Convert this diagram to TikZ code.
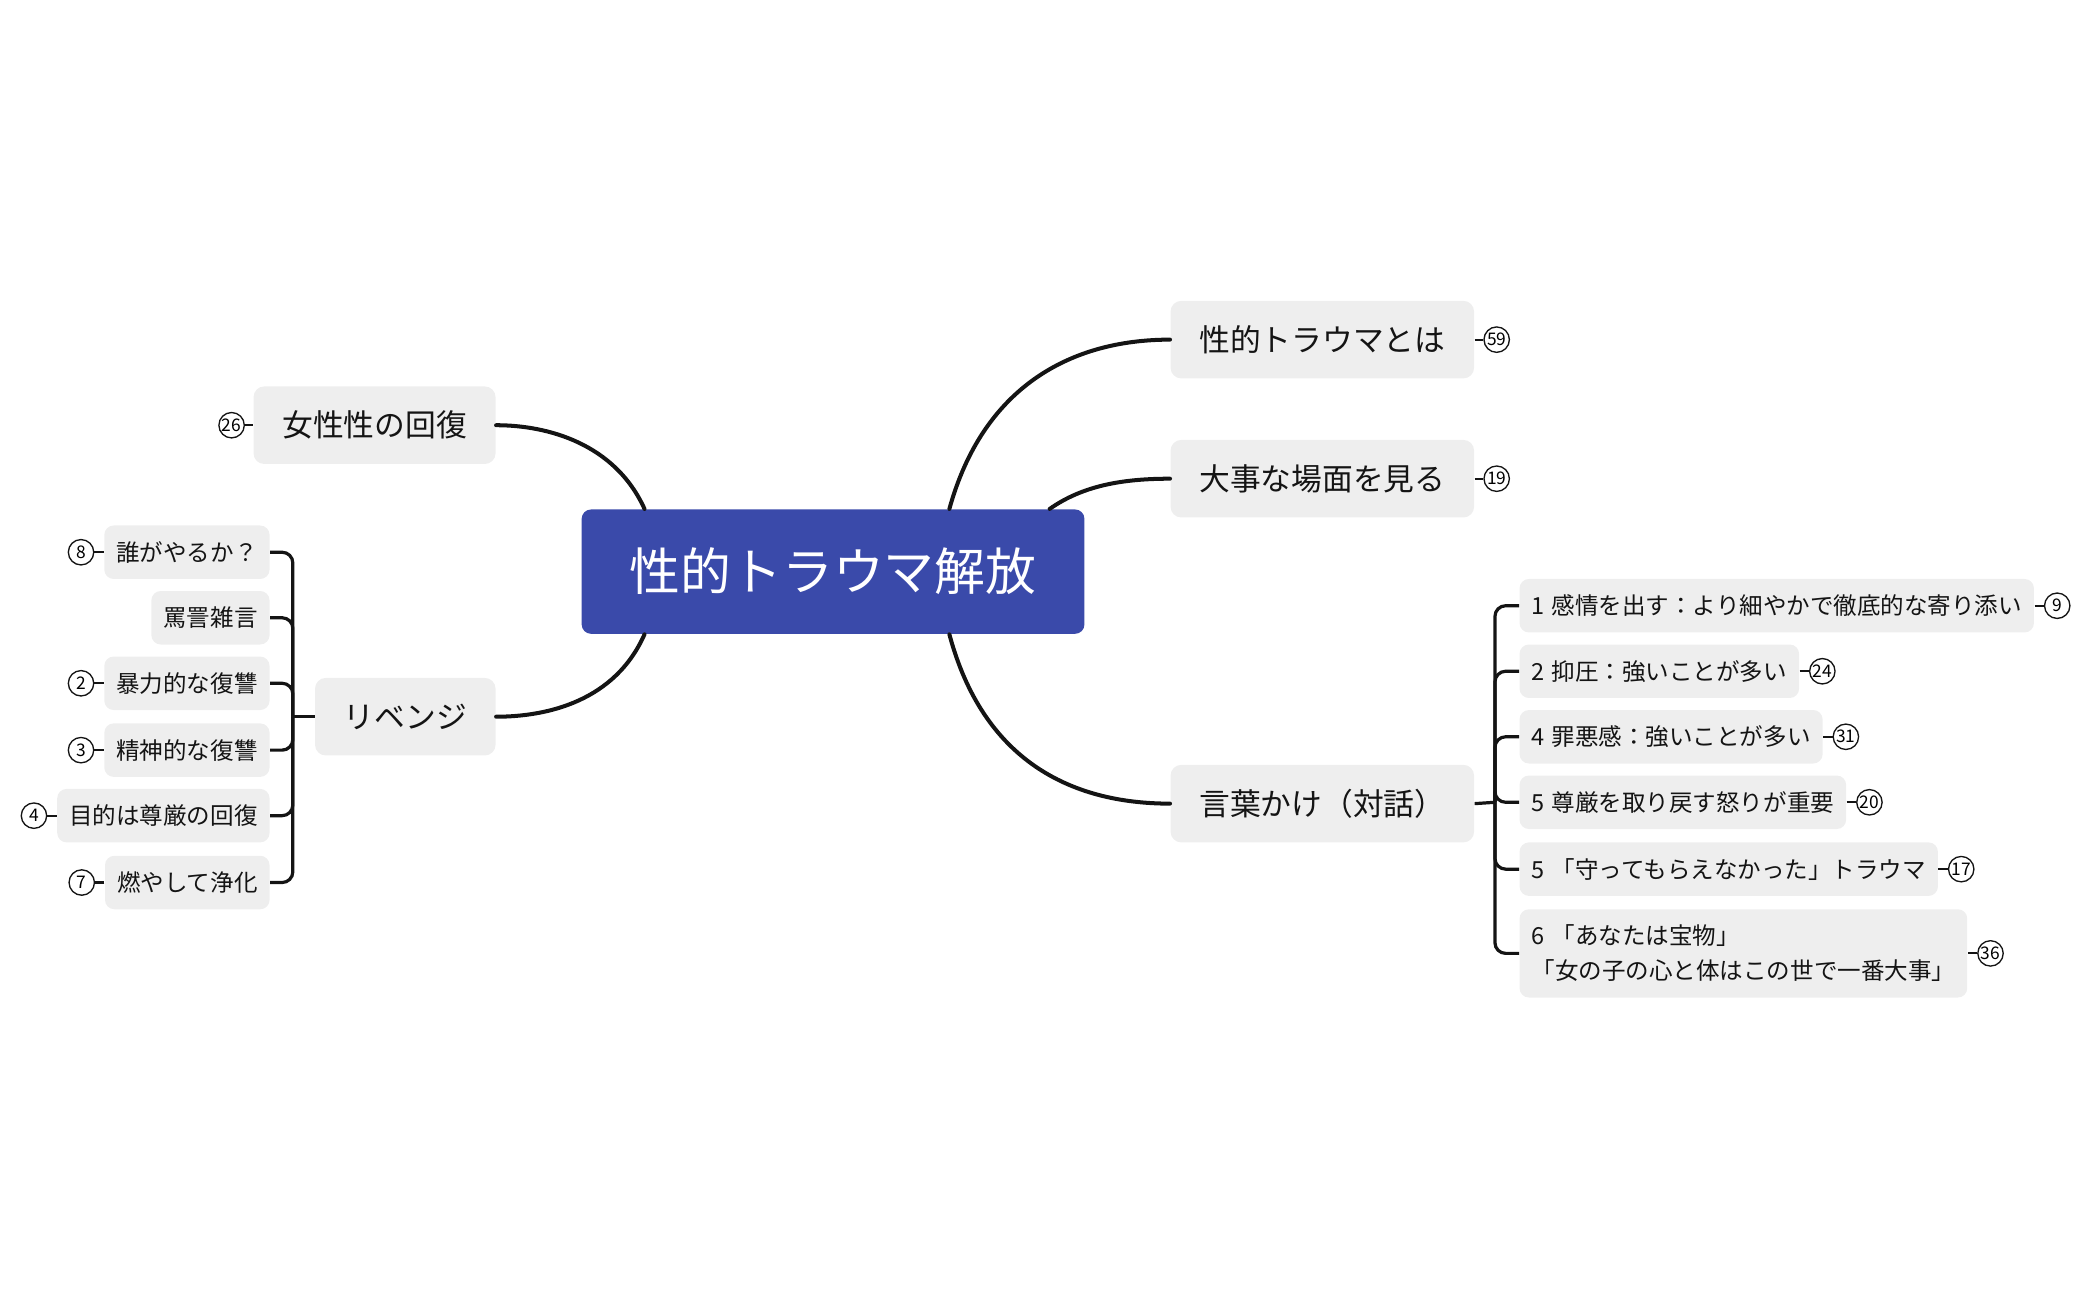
\documentclass[tikz,border=0pt]{standalone}
\usepackage{fontspec}
\setmainfont{Noto Sans CJK JP}
\usetikzlibrary{positioning,calc}
\definecolor{rootblue}{RGB}{58,74,170}
\definecolor{boxgray}{RGB}{238,238,238}
\definecolor{ink}{RGB}{20,20,20}
\newcommand{\numsp}{\hspace{0.3em}}
\tikzset{
  rootbox/.style={fill=rootblue, text=white, rounded corners=3.5pt, minimum width=188pt, minimum height=46.5pt, inner sep=0pt, font=\fontsize{19}{22}\selectfont},
  topic/.style={fill=boxgray, text=ink, rounded corners=4pt, inner xsep=10.75pt, inner ysep=0pt, minimum height=29pt, font=\fontsize{11.5}{14}\selectfont},
  sub/.style={fill=boxgray, text=ink, rounded corners=3.5pt, inner xsep=4.5pt, inner ysep=0pt, minimum height=20pt, font=\fontsize{8.8}{13}\selectfont},
  badge/.style={draw=ink, circle, fill=white, minimum size=9.5pt, inner sep=0pt, line width=0.5pt, font=\fontsize{6.5}{7}\selectfont},
  branch/.style={draw=ink, line width=1.5pt, line cap=round},
  twig/.style={draw=ink, line width=1.2pt, rounded corners=4pt},
  tick/.style={draw=ink, line width=0.8pt},
}
\begin{document}
\begin{tikzpicture}[x=0.5pt,y=-0.5pt]
\useasboundingbox (0,0) rectangle (1569,972.2);

% 中心
\node[rootbox] (root) at (623,427.5) {性的トラウマ解放};

% 右側のトピック
\node[topic,anchor=west] (t1) at (875,254) {性的トラウマとは};
\node[topic,anchor=west] (t2) at (875,358) {大事な場面を見る};
\node[topic,anchor=west] (t3) at (875,601) {言葉かけ（対話）};

% 左側のトピック
\node[topic,anchor=east] (t4) at (371,318) {女性性の回復};
\node[topic,anchor=east] (t5) at (371,536) {リベンジ};

% 中心からの枝
\draw[branch] ($(root.north)+(87,0)$) .. controls (735,290) and (800,254) .. (t1.west);
\draw[branch] ($(root.north)+(162,0)$) .. controls (810,363) and (840,358) .. (t2.west);
\draw[branch] ($(root.south)+(87,0)$) .. controls (735,568) and (800,601) .. (t3.west);
\draw[branch] ($(root.north)+(-141,0)$) .. controls (460,332) and (410,318) .. (t4.east);
\draw[branch] ($(root.south)+(-141,0)$) .. controls (460,524) and (410,536) .. (t5.east);

% リベンジの下位
\node[sub,anchor=east] (r1) at (202,413) {誰がやるか？};
\node[sub,anchor=east] (r2) at (202,462) {罵詈雑言};
\node[sub,anchor=east] (r3) at (202,511) {暴力的な復讐};
\node[sub,anchor=east] (r4) at (202,561) {精神的な復讐};
\node[sub,anchor=east] (r5) at (202,610) {目的は尊厳の回復};
\node[sub,anchor=east] (r6) at (202,660) {燃やして浄化};
\coordinate (rb) at (219,536);
\draw[twig] (t5.west) -- (rb);
\foreach \n in {r1,r2,r3,r4,r5,r6}
  \draw[twig] (\n.east) -| (rb);

% 言葉かけの下位
\node[sub,anchor=west] (k1) at (1136,453) {1\numsp 感情を出す：より細やかで徹底的な寄り添い};
\node[sub,anchor=west] (k2) at (1136,502) {2\numsp 抑圧：強いことが多い};
\node[sub,anchor=west] (k3) at (1136,551) {4\numsp 罪悪感：強いことが多い};
\node[sub,anchor=west] (k4) at (1136,600) {5\numsp 尊厳を取り戻す怒りが重要};
\node[sub,anchor=west] (k5) at (1136,650) {5\numsp「守ってもらえなかった」トラウマ};
\node[sub,anchor=west,align=left,minimum height=33pt] (k6) at (1136,713) {6\numsp「あなたは宝物」\\「女の子の心と体はこの世で一番大事」};
\coordinate (kb) at (1118,600);
\draw[twig] (t3.east) -- (kb);
\foreach \n in {k1,k2,k3,k4,k5,k6}
  \draw[twig] (\n.west) -| (kb);

% 番号の丸
\node[badge,right=3.25pt of t1] (b59) {59};
\node[badge,right=3.25pt of t2] (b19) {19};
\node[badge,left=3pt of t4] (b26) {26};
\node[badge,left=3.5pt of r1] (b8) {8};
\node[badge,left=3.5pt of r3] (b2) {2};
\node[badge,left=3.5pt of r4] (b3) {3};
\node[badge,left=3.5pt of r5] (b4) {4};
\node[badge,left=3.5pt of r6] (b7) {7};
\node[badge,right=3.5pt of k1] (b9) {9};
\node[badge,right=3.5pt of k2] (b24) {24};
\node[badge,right=3.5pt of k3] (b31) {31};
\node[badge,right=3.5pt of k4] (b20) {20};
\node[badge,right=3.5pt of k5] (b17) {17};
\node[badge,right=3.5pt of k6] (b36) {36};
\draw[tick] (t1.east) -- (b59);
\draw[tick] (t2.east) -- (b19);
\draw[tick] (t4.west) -- (b26);
\draw[tick] (r1.west) -- (b8);
\draw[tick] (r3.west) -- (b2);
\draw[tick] (r4.west) -- (b3);
\draw[tick] (r5.west) -- (b4);
\draw[tick] (r6.west) -- (b7);
\draw[tick] (k1.east) -- (b9);
\draw[tick] (k2.east) -- (b24);
\draw[tick] (k3.east) -- (b31);
\draw[tick] (k4.east) -- (b20);
\draw[tick] (k5.east) -- (b17);
\draw[tick] (k6.east) -- (b36);
\end{tikzpicture}
\end{document}
